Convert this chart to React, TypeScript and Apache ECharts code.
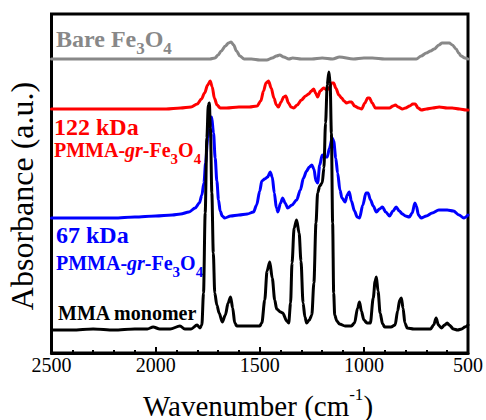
import React, { useEffect, useRef } from "react";
import * as echarts from "echarts";

const FONT = "Liberation Serif";

const xTicks = [2500, 2000, 1500, 1000, 500];

// [wavenumber (cm-1), absorbance (a.u., offset-stacked)]
const bareFe3O4: number[][] = [
  [2500, 294], [2300, 294], [2100, 294], [1900, 294], [1800, 294], [1740, 294], [1715, 295], [1700, 298],
  [1685, 302], [1665, 307], [1650, 310], [1638, 311], [1625, 308], [1612, 302], [1595, 297], [1575, 294],
  [1540, 294], [1500, 293], [1466, 293], [1440, 295], [1420, 297], [1404, 298], [1385, 296], [1360, 294],
  [1342, 295], [1300, 294], [1250, 294], [1200, 295], [1150, 294], [1117, 296], [1050, 294], [1000, 295],
  [959, 295], [900, 294], [850, 294], [800, 294], [748, 294], [725, 297], [700, 300], [680, 302], [662, 304],
  [640, 308], [624, 310], [605, 310], [590, 310], [575, 308], [557, 304], [545, 300], [533, 297], [515, 295],
  [500, 294],
];

const pmma122: number[][] = [
  [2500, 244], [2300, 244], [2100, 244], [1950, 244], [1880, 245], [1830, 246], [1800, 249], [1780, 254],
  [1765, 260], [1750, 268], [1738, 272], [1728, 266], [1718, 255], [1705, 248], [1690, 245], [1660, 245],
  [1600, 246], [1550, 246], [1513, 247], [1495, 252], [1482, 262], [1470, 270], [1458, 272], [1445, 265],
  [1432, 255], [1420, 248], [1410, 246], [1398, 251], [1385, 256], [1375, 257], [1362, 250], [1350, 246],
  [1337, 245], [1320, 248], [1300, 253], [1280, 257], [1265, 259], [1252, 262], [1241, 264], [1232, 260],
  [1222, 256], [1210, 262], [1193, 265], [1178, 263], [1165, 265], [1155, 270], [1145, 270], [1135, 265],
  [1120, 258], [1107, 255], [1095, 252], [1083, 250], [1070, 251], [1059, 251], [1045, 247], [1025, 245],
  [1011, 244], [995, 250], [982, 255], [973, 255], [960, 250], [945, 245], [930, 245], [900, 245], [877, 245],
  [860, 247], [849, 248], [835, 246], [815, 244], [800, 245], [780, 247], [765, 249], [753, 249], [740, 245],
  [724, 243], [700, 244], [670, 245], [638, 246], [600, 245], [576, 245], [540, 244], [509, 243], [500, 243],
];

const pmma67: number[][] = [
  [2500, 135], [2400, 135], [2300, 135], [2200, 135], [2100, 136], [2000, 137], [1920, 138], [1880, 139],
  [1840, 141], [1810, 145], [1790, 150], [1778, 158], [1768, 170], [1760, 190], [1750, 215], [1740, 232],
  [1731, 236], [1722, 220], [1714, 195], [1706, 172], [1698, 153], [1690, 142], [1680, 137], [1668, 135],
  [1640, 137], [1600, 138], [1560, 139], [1530, 141], [1515, 148], [1500, 162], [1490, 172], [1476, 174],
  [1462, 176], [1450, 181], [1440, 176], [1430, 160], [1420, 145], [1413, 141], [1400, 150], [1390, 155],
  [1378, 150], [1366, 145], [1345, 148], [1323, 153], [1305, 163], [1290, 175], [1275, 182], [1262, 186],
  [1250, 188], [1240, 184], [1230, 172], [1222, 170], [1212, 188], [1200, 198], [1188, 196], [1176, 196],
  [1165, 205], [1152, 215], [1145, 212], [1135, 195], [1126, 180], [1115, 163], [1105, 155], [1090, 151],
  [1080, 158], [1070, 161], [1060, 152], [1045, 142], [1032, 136], [1021, 135], [1005, 148], [990, 160],
  [980, 160], [968, 153], [955, 147], [940, 141], [925, 144], [911, 146], [895, 141], [877, 137], [860, 142],
  [845, 146], [830, 142], [815, 139], [800, 137], [782, 136], [768, 140], [755, 150], [748, 147], [738, 138],
  [725, 135], [700, 137], [672, 140], [640, 143], [600, 143], [570, 142], [543, 138], [520, 135], [500, 138],
];

const mmaMonomer: number[][] = [
  [2500, 23], [2400, 23], [2300, 24], [2200, 23], [2100, 24], [2040, 24], [2012, 26], [1980, 24], [1930, 24],
  [1883, 27], [1860, 24], [1830, 24], [1801, 28], [1787, 25], [1778, 28], [1770, 60], [1762, 140], [1754, 215],
  [1747, 248], [1742, 250], [1737, 225], [1730, 160], [1723, 100], [1716, 60], [1706, 48], [1695, 40],
  [1680, 31], [1665, 38], [1652, 50], [1640, 56], [1630, 45], [1620, 30], [1610, 27], [1560, 27], [1500, 27],
  [1490, 30], [1476, 53], [1465, 82], [1452, 91], [1440, 75], [1428, 53], [1419, 44], [1400, 41], [1390, 40],
  [1370, 32], [1361, 30], [1352, 50], [1345, 90], [1335, 125], [1323, 133], [1311, 120], [1302, 92],
  [1292, 50], [1283, 36], [1275, 30], [1262, 33], [1250, 38], [1240, 70], [1230, 130], [1222, 160],
  [1212, 167], [1200, 170], [1192, 185], [1184, 230], [1176, 268], [1168, 281], [1162, 270], [1156, 220],
  [1150, 130], [1145, 60], [1140, 38], [1130, 32], [1117, 29], [1090, 27], [1060, 27], [1045, 30],
  [1030, 45], [1021, 51], [1012, 42], [1000, 33], [985, 30], [969, 30], [955, 55], [946, 72], [940, 76],
  [932, 62], [922, 40], [910, 29], [900, 26], [870, 26], [850, 28], [838, 42], [828, 53], [820, 55],
  [812, 45], [803, 30], [792, 25], [760, 24], [720, 24], [680, 24], [665, 28], [653, 35], [642, 28],
  [628, 25], [612, 28], [600, 30], [590, 28], [570, 24], [550, 23], [530, 24], [515, 26], [500, 28],
];

const GRAY = "#888888";
const RED = "#ff0000";
const BLUE = "#0000ff";
const BLACK = "#000000";

function lineSeries(name: string, data: number[][], color: string) {
  return {
    name,
    type: "line",
    data,
    showSymbol: false,
    smooth: 0.3,
    smoothMonotone: "x",
    lineStyle: { color, width: 3, join: "round", cap: "round" },
    emphasis: { disabled: true },
  };
}

function formulaRich(color: string, main: number, sub: number, lh: number, subLh: number) {
  const base = { fontFamily: FONT, fontWeight: "bold", fill: color };
  return {
    m: { ...base, fontSize: main, lineHeight: lh, verticalAlign: "top" },
    i: { ...base, fontSize: main, lineHeight: lh, verticalAlign: "top", fontStyle: "italic" },
    s: { ...base, fontSize: sub, lineHeight: subLh, verticalAlign: "bottom" },
  };
}

export default function App() {
  const ref = useRef<HTMLDivElement>(null);
  useEffect(() => {
    if (!ref.current) return;
    const chart = echarts.init(ref.current, undefined, { renderer: "svg" });
    chart.setOption({
      animation: false,
      textStyle: { fontFamily: FONT },
      grid: {
        left: 51.5, right: 17.5, top: 14, bottom: 67,
        show: true, borderColor: BLACK, borderWidth: 3, backgroundColor: "transparent",
      },
      xAxis: {
        type: "value",
        inverse: true,
        min: 500,
        max: 2500,
        interval: 500,
        axisLine: { show: true, lineStyle: { color: BLACK, width: 3 } },
        axisTick: { show: true, inside: true, length: 6, lineStyle: { color: BLACK, width: 2 } },
        minorTick: { show: true, splitNumber: 5, length: 3, lineStyle: { color: BLACK, width: 2 } },
        axisLabel: {
          fontFamily: FONT, fontSize: 20, color: BLACK, margin: 2,
          formatter: (v: number) => (xTicks.includes(v) ? String(v) : ""),
        },
        splitLine: { show: false },
      },
      yAxis: { type: "value", min: 0, max: 339, show: false },
      series: [
        lineSeries("Bare Fe3O4", bareFe3O4, GRAY),
        lineSeries("122 kDa", pmma122, RED),
        lineSeries("67 kDa", pmma67, BLUE),
        lineSeries("MMA monomer", mmaMonomer, BLACK),
      ],
      graphic: [
        {
          type: "text", x: 56, y: 27, silent: true,
          style: { text: "{m|Bare Fe}{s|3}{m|O}{s|4}", rich: formulaRich(GRAY, 24, 17, 30, 21), align: "left", verticalAlign: "top" },
        },
        {
          type: "text", x: 54, y: 127, silent: true,
          style: { text: "122 kDa", fontFamily: FONT, fontWeight: "bold", fontSize: 24, fill: RED, align: "left", verticalAlign: "middle" },
        },
        {
          type: "text", x: 54, y: 140, silent: true,
          style: { text: "{m|PMMA-}{i|gr}{m|-Fe}{s|3}{m|O}{s|4}", rich: formulaRich(RED, 20, 15, 26, 19), align: "left", verticalAlign: "top" },
        },
        {
          type: "text", x: 56, y: 235, silent: true,
          style: { text: "67 kDa", fontFamily: FONT, fontWeight: "bold", fontSize: 24, fill: BLUE, align: "left", verticalAlign: "middle" },
        },
        {
          type: "text", x: 56, y: 253, silent: true,
          style: { text: "{m|PMMA-}{i|gr}{m|-Fe}{s|3}{m|O}{s|4}", rich: formulaRich(BLUE, 20, 15, 26, 19), align: "left", verticalAlign: "top" },
        },
        {
          type: "text", x: 58, y: 313, silent: true,
          style: { text: "MMA monomer", fontFamily: FONT, fontWeight: "bold", fontSize: 20, fill: BLACK, align: "left", verticalAlign: "middle" },
        },
        {
          type: "text", x: 143, y: 386, silent: true,
          style: {
            text: "{m|Wavenumber (cm}{p|-1}{m|)}",
            align: "left", verticalAlign: "top",
            rich: {
              m: { fontFamily: FONT, fontSize: 29, fill: BLACK, lineHeight: 34, verticalAlign: "bottom" },
              p: { fontFamily: FONT, fontSize: 17, fill: BLACK, lineHeight: 19, verticalAlign: "top" },
            },
          },
        },
        {
          type: "text", x: 22, y: 196, rotation: Math.PI / 2, silent: true,
          style: { text: "Absorbance (a.u.)", fontFamily: FONT, fontSize: 32, fill: BLACK, align: "center", verticalAlign: "middle" },
        },
      ],
    });
    return () => chart.dispose();
  }, []);
  return (
    <div
      ref={ref}
      style={{ position: "fixed", left: 0, top: 0, width: 486, height: 420, background: "#fff" }}
    />
  );
}
